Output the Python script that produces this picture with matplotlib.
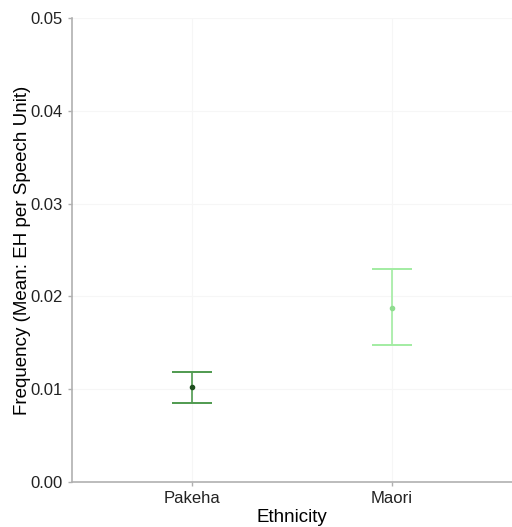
import numpy as np
import matplotlib
matplotlib.use('Agg')
import matplotlib.pyplot as plt

plt.rcParams['font.family'] = ['Liberation Sans', 'DejaVu Sans']

# Mean frequency with error bar bounds
groups = ['Pakeha', 'Maori']
means = [0.0102, 0.0188]
lower = [0.0085, 0.0148]
upper = [0.0119, 0.0230]

line_colors = ['#4f9a4f', '#a2eca2']
point_colors = ['#1f4f1f', '#8fdc8f']

fig = plt.figure(figsize=(5.12, 5.27), dpi=100)
ax = fig.add_axes([72 / 512, 45 / 527, 440 / 512, 464 / 527])

positions = np.arange(1, len(groups) + 1)
for x, m, lo, hi, lc, pc in zip(positions, means, lower, upper, line_colors, point_colors):
    ax.vlines(x, lo, hi, color=lc, linewidth=1.2)
    ax.hlines([lo, hi], x - 0.1, x + 0.1, color=lc, linewidth=1.4)
    ax.plot(x, m, 'o', color=pc, markersize=3)

ax.set_xlim(0.4, 2.6)
ax.set_ylim(0, 0.05)
ax.set_xticks(positions)
ax.set_xticklabels(groups)
ax.set_yticks([0.0, 0.01, 0.02, 0.03, 0.04, 0.05])
ax.set_yticklabels(['0.00', '0.01', '0.02', '0.03', '0.04', '0.05'])

ax.grid(True, color='#f6f6f6', linewidth=0.8)
ax.set_axisbelow(True)
for side in ['top', 'right']:
    ax.spines[side].set_visible(False)
for side in ['left', 'bottom']:
    ax.spines[side].set_color('#b0b0b0')
    ax.spines[side].set_linewidth(1.2)
ax.tick_params(colors='#b0b0b0', labelcolor='#222222', labelsize=12, length=3, width=1)

ax.set_xlabel('Ethnicity', fontsize=13.5, labelpad=2)
ax.set_ylabel('Frequency (Mean: EH per Speech Unit)', fontsize=13.5, labelpad=0)

fig.savefig('out.png', dpi=100)
